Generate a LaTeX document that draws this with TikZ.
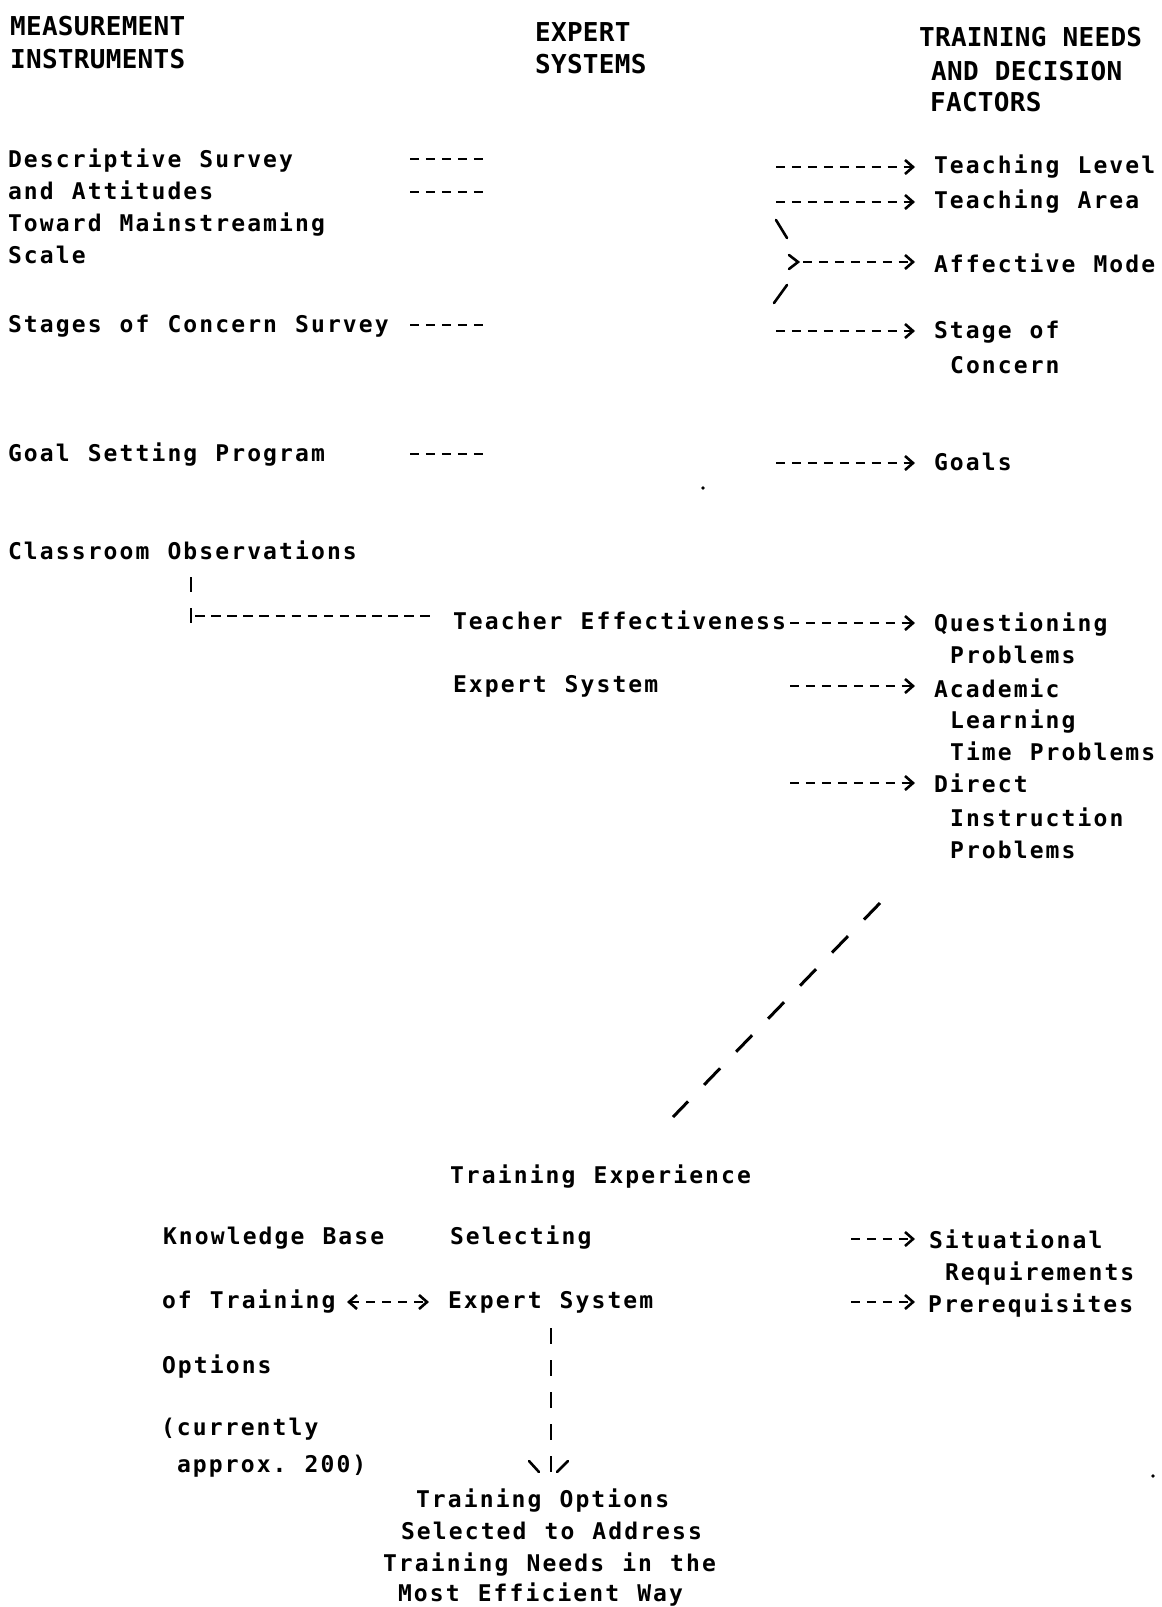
\documentclass[tikz,border=0pt]{standalone}
\usepackage{fontspec}
\newfontfamily\twfam{DejaVu Sans Mono}
\usetikzlibrary{arrows.meta}
\newlength\twpitch
\setlength\twpitch{15.95pt}
\ExplSyntaxOn
\NewDocumentCommand\tw{m}{\str_map_inline:nn{#1}{\makebox[\twpitch][c]{##1}}}
\ExplSyntaxOff
\tikzset{
  txt/.style={anchor=base west, inner sep=0pt, outer sep=0pt, font=\twfam\bfseries\fontsize{23}{23}\selectfont},
  hdr/.style={anchor=base west, inner sep=0pt, outer sep=0pt, font=\twfam\bfseries\fontsize{26}{26}\selectfont},
  dashline/.style={line width=2.6pt, dash pattern=on 9pt off 6.95pt},
  rarrow/.style={dashline, -{Straight Barb[length=8pt,width=14pt]}},
  lrarrow/.style={dashline, {Straight Barb[length=8pt,width=14pt]}-{Straight Barb[length=8pt,width=14pt]}},
  stroke/.style={line width=2.6pt, line cap=round},
  vbar/.style={line width=2.8pt},
  diag/.style={line width=3pt, dash pattern=on 23pt off 23pt},
}
\begin{document}
\begin{tikzpicture}[x=1pt,y=-1pt]
\fill[white] (0,0) rectangle (1162,1607);
\useasboundingbox (0,0) rectangle (1162,1607);
% headers
\node[hdr] (hmA) at (10,35) {\tw{MEASUREMENT}};
\node[hdr] (hmB) at (10,68) {\tw{INSTRUMENTS}};
\node[hdr] (heA) at (535,41) {\tw{EXPERT}};
\node[hdr] (heB) at (535,73) {\tw{SYSTEMS}};
\node[hdr] (htA) at (919,46) {\tw{TRAINING NEEDS}};
\node[hdr] (htB) at (931,80) {\tw{AND DECISION}};
\node[hdr] (htC) at (930,111) {\tw{FACTORS}};
% left column
\node[txt] (lA) at (7,167) {\tw{Descriptive Survey}};
\node[txt] (lB) at (7,199) {\tw{and Attitudes}};
\node[txt] (lC) at (7,231) {\tw{Toward Mainstreaming}};
\node[txt] (lD) at (7,263) {\tw{Scale}};
\node[txt] (lE) at (7,332) {\tw{Stages of Concern Survey}};
\node[txt] (lF) at (7,461) {\tw{Goal Setting Program}};
\node[txt] (lG) at (7,559) {\tw{Classroom Observations}};
% right column
\node[txt] (rA) at (933,173) {\tw{Teaching Level}};
\node[txt] (rB) at (933,208) {\tw{Teaching Area}};
\node[txt] (rC) at (933,272) {\tw{Affective Mode}};
\node[txt] (rD) at (933,338) {\tw{Stage of}};
\node[txt] (rE) at (949,373) {\tw{Concern}};
\node[txt] (rF) at (933,470) {\tw{Goals}};
\node[txt] (rG) at (933,631) {\tw{Questioning}};
\node[txt] (rH) at (949,663) {\tw{Problems}};
\node[txt] (rI) at (933,697) {\tw{Academic}};
\node[txt] (rJ) at (949,728) {\tw{Learning}};
\node[txt] (rK) at (949,760) {\tw{Time Problems}};
\node[txt] (rL) at (933,792) {\tw{Direct}};
\node[txt] (rM) at (949,826) {\tw{Instruction}};
\node[txt] (rN) at (949,858) {\tw{Problems}};
% middle
\node[txt] (mA) at (452,629) {\tw{Teacher Effectiveness}};
\node[txt] (mB) at (452,692) {\tw{Expert System}};
% bottom
\node[txt] (bA) at (449,1183) {\tw{Training Experience}};
\node[txt] (bB) at (162,1244) {\tw{Knowledge Base}};
\node[txt] (bC) at (449,1244) {\tw{Selecting}};
\node[txt] (bD) at (928,1248) {\tw{Situational}};
\node[txt] (bE) at (944,1280) {\tw{Requirements}};
\node[txt] (bF) at (161,1308) {\tw{of Training}};
\node[txt] (bG) at (447,1308) {\tw{Expert System}};
\node[txt] (bH) at (927,1312) {\tw{Prerequisites}};
\node[txt] (bI) at (161,1373) {\tw{Options}};
\node[txt] (bJ) at (160,1435) {\tw{(currently}};
\node[txt] (bK) at (176,1472) {\tw{approx. 200)}};
\node[txt] (bL) at (415,1507) {\tw{Training Options}};
\node[txt] (bM) at (400,1539) {\tw{Selected to Address}};
\node[txt] (bN) at (382,1571) {\tw{Training Needs in the}};
\node[txt] (bO) at (397,1601) {\tw{Most Efficient Way}};
% left dashes
\coordinate (d1a) at (410,159); \coordinate (d1b) at (487,159);
\coordinate (d2a) at (410,192); \coordinate (d2b) at (487,192);
\coordinate (d3a) at (410,325); \coordinate (d3b) at (487,325);
\coordinate (d4a) at (410,454); \coordinate (d4b) at (487,454);
\draw[dashline] (d1a) -- (d1b);
\draw[dashline] (d2a) -- (d2b);
\draw[dashline] (d3a) -- (d3b);
\draw[dashline] (d4a) -- (d4b);
% right arrows
\coordinate (a1) at (776,167);
\coordinate (a2) at (776,202);
\coordinate (a3) at (803,262);
\coordinate (a4) at (776,331);
\coordinate (a5) at (776,463);
\draw[rarrow, shorten >=18pt] (a1) -- (a1 -| rA.west);
\draw[rarrow, shorten >=18pt] (a2) -- (a2 -| rB.west);
\draw[rarrow, shorten >=18pt] (a3) -- (a3 -| rC.west);
\draw[rarrow, shorten >=18pt] (a4) -- (a4 -| rD.west);
\draw[rarrow, shorten >=18pt] (a5) -- (a5 -| rF.west);
% merge bracket for Affective Mode
\coordinate (k1) at (776,220); \coordinate (k2) at (787,238);
\coordinate (k3) at (787,285); \coordinate (k4) at (774,303);
\coordinate (c1) at (789,255); \coordinate (c2) at (798,262); \coordinate (c3) at (789,269);
\draw[stroke] (k1) -- (k2);
\draw[stroke] (k3) -- (k4);
\draw[stroke, line join=miter] (c1) -- (c2) -- (c3);
% classroom observations connector
\coordinate (v1) at (191,577); \coordinate (v2) at (191,624);
\coordinate (h1) at (195,616);
\draw[vbar, dash pattern=on 15pt off 16pt] (v1) -- (v2);
\draw[dashline, dash pattern=on 9.5pt off 6.6pt, shorten >=16pt] (h1) -- (h1 -| mA.west);
\coordinate (e1) at (790,623);
\coordinate (e2) at (790,686);
\coordinate (e3) at (790,783);
\draw[rarrow, shorten >=18pt] (e1) -- (e1 -| rG.west);
\draw[rarrow, shorten >=18pt] (e2) -- (e2 -| rI.west);
\draw[rarrow, shorten >=18pt] (e3) -- (e3 -| rL.west);
% diagonal dashed link
\coordinate (g1) at (880,903); \coordinate (g2) at (673,1117);
\draw[diag] (g1) -- (g2);
% bottom arrows
\coordinate (f1) at (851,1239);
\coordinate (f2) at (851,1302);
\draw[rarrow, shorten >=13pt] (f1) -- (f1 -| bD.west);
\draw[rarrow, shorten >=12pt] (f2) -- (f2 -| bH.west);
\coordinate (kb1) at (347,1302); \coordinate (kb2) at (429,1302);
\draw[lrarrow] (kb1) -- (kb2);
% vertical arrow to training options
\coordinate (w1) at (551,1328); \coordinate (w2) at (551,1472);
\draw[vbar, dash pattern=on 16pt off 16pt] (w1) -- (w2);
\coordinate (t1) at (529,1461); \coordinate (t2) at (539,1472);
\coordinate (t3) at (568,1461); \coordinate (t4) at (557,1472);
\draw[stroke] (t1) -- (t2);
\draw[stroke] (t3) -- (t4);
% specks
\fill (703,488) circle (1.8);
\fill (1153,1476) circle (1.8);
\end{tikzpicture}
\end{document}
